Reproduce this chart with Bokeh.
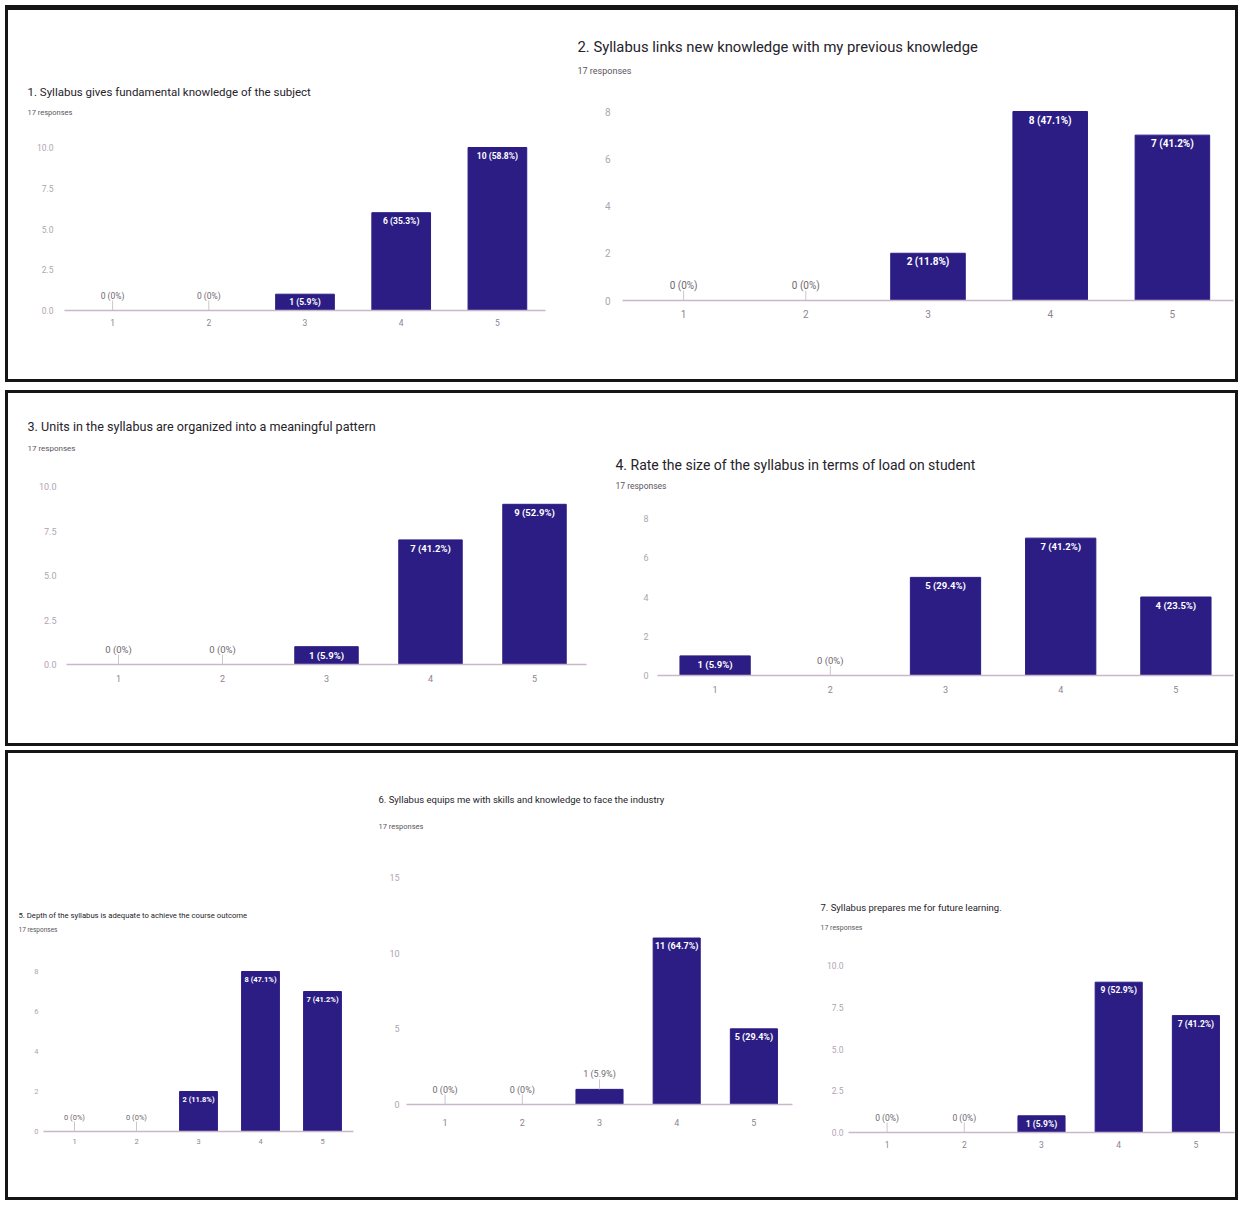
from bokeh.plotting import figure
from bokeh.models import ColumnDataSource, FixedTicker, PrintfTickFormatter, Title, Spacer, Range1d, FactorRange
from bokeh.layouts import row, column
from bokeh.embed import file_html
from bokeh.resources import INLINE
from bokeh.core.properties import value

# ---------------- data ----------------
categories = ["1", "2", "3", "4", "5"]
responses_text = "17 responses"

q1_title = "1. Syllabus gives fundamental knowledge of the subject"
q1_counts = [0, 0, 1, 6, 10]
q1_pcts = ["0%", "0%", "5.9%", "35.3%", "58.8%"]
q1_ticks = [0, 2.5, 5, 7.5, 10]

q2_title = "2. Syllabus links new knowledge with my previous knowledge"
q2_counts = [0, 0, 2, 8, 7]
q2_pcts = ["0%", "0%", "11.8%", "47.1%", "41.2%"]
q2_ticks = [0, 2, 4, 6, 8]

q3_title = "3. Units in the syllabus are organized into a meaningful pattern"
q3_counts = [0, 0, 1, 7, 9]
q3_pcts = ["0%", "0%", "5.9%", "41.2%", "52.9%"]
q3_ticks = [0, 2.5, 5, 7.5, 10]

q4_title = "4. Rate the size of the syllabus in terms of load on student"
q4_counts = [1, 0, 5, 7, 4]
q4_pcts = ["5.9%", "0%", "29.4%", "41.2%", "23.5%"]
q4_ticks = [0, 2, 4, 6, 8]

q5_title = "5. Depth of the syllabus is adequate to achieve the course outcome"
q5_counts = [0, 0, 2, 8, 7]
q5_pcts = ["0%", "0%", "11.8%", "47.1%", "41.2%"]
q5_ticks = [0, 2, 4, 6, 8]

q6_title = "6. Syllabus equips me with skills and knowledge to face the industry"
q6_counts = [0, 0, 1, 11, 5]
q6_pcts = ["0%", "0%", "5.9%", "64.7%", "29.4%"]
q6_ticks = [0, 5, 10, 15]

q7_title = "7. Syllabus prepares me for future learning."
q7_counts = [0, 0, 1, 9, 7]
q7_pcts = ["0%", "0%", "5.9%", "52.9%", "41.2%"]
q7_ticks = [0, 2.5, 5, 7.5, 10]

BAR = "#2c1d84"
FONT = "Roboto"


def make_chart(title, counts, pcts, ticks, fmt, g):
    # g: geometry/style dict (page-pixel layout)
    # fl/fr: plot left/right, ft: top tick, fb: baseline, ftop: top of plot area
    fl, fr, ft, fb, ftop = g["fl"], g["fr"], g["ft"], g["fb"], g["ftop"]
    cl, cr, ct, cb = g["cl"], g["cr"], g["ct"], g["cb"]
    W, H = cr - cl, cb - ct
    y_max = ticks[-1]
    ppu = (fb - ft) / y_max
    y_end = y_max + (ft - ftop) / ppu
    p = figure(width=W, height=H, x_range=FactorRange(*categories),
               y_range=Range1d(0, y_end), toolbar_location=None,
               output_backend="svg",
               min_border_left=fl - cl, min_border_right=cr - fr,
               min_border_top=ftop - ct, min_border_bottom=cb - fb)
    p.outline_line_color = None
    p.background_fill_color = "white"
    p.border_fill_color = "white"
    p.grid.visible = False

    p.title.text = title
    p.title.text_font = FONT
    p.title.text_font_size = "%gpx" % g["tsize"]
    p.title.text_font_style = "normal"
    p.title.text_color = "#26232a"
    p.title.align = "left"
    p.title.offset = g["tx"] - fl
    p.title.standoff = g["tso"]
    sub = Title(text=responses_text, text_font=FONT,
                text_font_size="%gpx" % g["ssize"], text_font_style="normal",
                text_color="#5a5560", align="left", offset=g["tx"] - fl,
                standoff=4)
    p.add_layout(sub, "above")

    inside = [c * ppu >= 15.5 for c in counts]
    labels = ["%d (%s)" % (c, s) for c, s in zip(counts, pcts)]
    src_in = ColumnDataSource(dict(
        x=[k for k, i in zip(categories, inside) if i],
        y=[c for c, i in zip(counts, inside) if i],
        t=[t for t, i in zip(labels, inside) if i]))
    src_out = ColumnDataSource(dict(
        x=[k for k, i in zip(categories, inside) if not i],
        y=[c for c, i in zip(counts, inside) if not i],
        y1=[c + 10.0 / ppu for c, i in zip(counts, inside) if not i],
        t=[t for t, i in zip(labels, inside) if not i]))

    p.vbar(x=categories, top=counts, width=0.61, color=BAR)
    p.segment(x0="x", y0="y", x1="x", y1="y1", source=src_out,
              line_color="#cfc4cf", line_width=1)
    p.text(x="x", y="y", text="t", source=src_in, text_color="white",
           text_font=value(FONT), text_font_size="%gpx" % g["lsize"],
           text_font_style="bold", text_align="center", text_baseline="top",
           y_offset=3)
    p.text(x="x", y="y", text="t", source=src_out, text_color="#6f6870",
           text_font=value(FONT), text_font_size="%gpx" % g["lsize"],
           text_align="center", text_baseline="bottom", y_offset=-10)

    xa = p.xaxis[0]
    xa.axis_line_color = "#c9b6c9"
    xa.axis_line_width = 1.5
    xa.major_tick_line_color = None
    xa.minor_tick_line_color = None
    xa.major_tick_out = 0
    xa.major_tick_in = 0
    xa.major_label_standoff = g["xso"]
    xa.major_label_text_font = FONT
    xa.major_label_text_font_size = "%gpx" % g["asize"]
    xa.major_label_text_color = "#8f848f"

    ya = p.yaxis[0]
    ya.ticker = FixedTicker(ticks=ticks)
    ya.formatter = PrintfTickFormatter(format=fmt)
    ya.axis_line_color = None
    ya.major_tick_line_color = None
    ya.minor_tick_line_color = None
    ya.major_tick_out = 0
    ya.major_tick_in = 0
    ya.major_label_standoff = g["yso"]
    ya.major_label_text_font = FONT
    ya.major_label_text_font_size = "%gpx" % g["asize"]
    ya.major_label_text_color = "#b0a4b0"
    return p


g1 = dict(fl=64, fr=545, ft=147, fb=310, ftop=118, cl=15, cr=550, ct=73, cb=340,
          tx=27, tsize=11.5, ssize=7.5, lsize=8.5, asize=8.5, xso=8, yso=11,
          tso=9)
g2 = dict(fl=622, fr=1233, ft=111, fb=300, ftop=77, cl=560, cr=1235, ct=27, cb=330,
          tx=577, tsize=14.8, ssize=9, lsize=10, asize=10, xso=9, yso=12,
          tso=12)
g3 = dict(fl=66, fr=586, ft=486, fb=664, ftop=454, cl=15, cr=590, ct=407, cb=694,
          tx=27, tsize=12.6, ssize=8, lsize=9.5, asize=9, xso=10, yso=10,
          tso=11)
g4 = dict(fl=657, fr=1233, ft=518, fb=675, ftop=492, cl=605, cr=1235, ct=446, cb=705,
          tx=615, tsize=14, ssize=8.5, lsize=9.5, asize=9, xso=10, yso=9,
          tso=7.5)
g5 = dict(fl=43, fr=353, ft=971, fb=1131, ftop=935, cl=12, cr=358, ct=896, cb=1160,
          tx=18, tsize=7.7, ssize=6.5, lsize=7.5, asize=7.5, xso=7, yso=5,
          tso=4)
g6 = dict(fl=406, fr=792, ft=877, fb=1104, ftop=832, cl=372, cr=800, ct=775, cb=1134,
          tx=378, tsize=9.5, ssize=7.5, lsize=9, asize=9, xso=14, yso=7,
          tso=25)
g7 = dict(fl=848, fr=1234, ft=965, fb=1132, ftop=933, cl=812, cr=1235, ct=887, cb=1162,
          tx=820, tsize=9.5, ssize=7, lsize=8.5, asize=8.5, xso=8, yso=5,
          tso=13.5)

p1 = make_chart(q1_title, q1_counts, q1_pcts, q1_ticks, "%.1f", g1)
p2 = make_chart(q2_title, q2_counts, q2_pcts, q2_ticks, "%d", g2)
p3 = make_chart(q3_title, q3_counts, q3_pcts, q3_ticks, "%.1f", g3)
p4 = make_chart(q4_title, q4_counts, q4_pcts, q4_ticks, "%d", g4)
p5 = make_chart(q5_title, q5_counts, q5_pcts, q5_ticks, "%d", g5)
p6 = make_chart(q6_title, q6_counts, q6_pcts, q6_ticks, "%d", g6)
p7 = make_chart(q7_title, q7_counts, q7_pcts, q7_ticks, "%.1f", g7)


def frame(items, inner_left, inner_top, inner_right, inner_bottom, border_top):
    # items: list of (fig, geometry)
    kids = []
    x = inner_left
    ih = inner_bottom - inner_top
    for fig, g in items:
        if g["cl"] - x > 0:
            kids.append(Spacer(width=g["cl"] - x, height=ih))
        w = g["cr"] - g["cl"]
        top_gap = g["ct"] - inner_top
        bot_gap = ih - top_gap - (g["cb"] - g["ct"])
        col = column(Spacer(width=w, height=top_gap), fig,
                     Spacer(width=w, height=max(bot_gap, 0)))
        kids.append(col)
        x = g["cr"]
    if inner_right - x > 0:
        kids.append(Spacer(width=inner_right - x, height=ih))
    return row(*kids, styles={"border": "3px solid #151515",
                              "border-top-width": "%dpx" % border_top,
                              "background-color": "white"})


f1 = frame([(p1, g1), (p2, g2)], 8, 10, 1235, 379, 5)
f2 = frame([(p3, g3), (p4, g4)], 8, 393, 1235, 743, 3)
f3 = frame([(p5, g5), (p6, g6), (p7, g7)], 8, 753, 1235, 1197, 3)

stack = column(f1, Spacer(width=10, height=8), f2, Spacer(width=10, height=4), f3)
root = column(Spacer(width=10, height=5), row(Spacer(width=5, height=10), stack))

open("out.html", "w").write(file_html(root, INLINE))
